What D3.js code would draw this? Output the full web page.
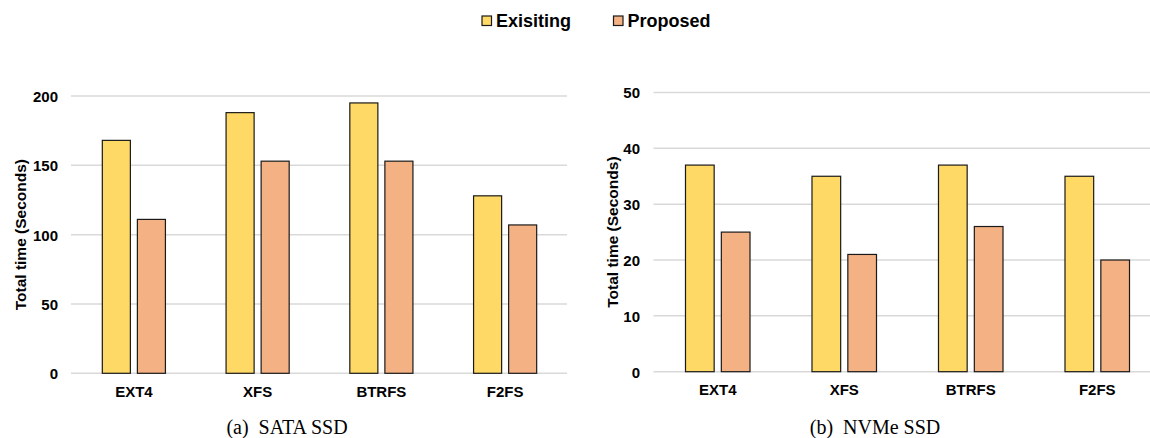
<!DOCTYPE html>
<html>
<head>
<meta charset="utf-8">
<script src="https://cdn.jsdelivr.net/npm/d3@7"></script>
<style>
  html, body { margin: 0; padding: 0; background: #fff; }
  svg { display: block; }
</style>
</head>
<body>
<svg id="chart" width="1150" height="438"></svg>
<script>
// File systems on the x axis
const categories = ["EXT4", "XFS", "BTRFS", "F2FS"];
const seriesNames = ["Exisiting", "Proposed"];

// Total run time in seconds, SATA SSD
const sataExisting = [168, 188, 195, 128];
const sataProposed = [111, 153, 153, 107];

// Total run time in seconds, NVMe SSD
const nvmeExisting = [37, 35, 37, 35];
const nvmeProposed = [25, 21, 26, 20];

// Y ticks per panel
const sataTicks = [0, 50, 100, 150, 200];
const nvmeTicks = [0, 10, 20, 30, 40, 50];

const captions = ["(a)\u00A0\u00A0SATA SSD", "(b)\u00A0\u00A0NVMe SSD"];

const colors = { "Exisiting": "#FFD966", "Proposed": "#F4B183" };
const sansBold = "Arial, 'Liberation Sans', sans-serif";

const svg = d3.select("#chart");

function panel(cfg) {
  const g = svg.append("g");
  const x = d3.scaleBand().domain(categories).range([cfg.x0, cfg.x1]);
  const y = d3.scaleLinear().domain([0, cfg.max]).range([cfg.yBottom, cfg.yTop]);

  // horizontal gridlines
  g.selectAll("line.grid").data(cfg.ticks).join("line")
    .attr("class", "grid")
    .attr("x1", cfg.x0 - 1).attr("x2", Math.min(cfg.x1, 1150))
    .attr("y1", d => y(d)).attr("y2", d => y(d))
    .attr("stroke", "#d9d9d9").attr("stroke-width", 1.5);

  // y axis tick labels
  const yAxis = d3.axisLeft(y).tickValues(cfg.ticks).tickSize(0).tickPadding(0);
  const ya = g.append("g").attr("transform", `translate(${cfg.labelX},0)`).call(yAxis);
  ya.select(".domain").remove();
  ya.selectAll("text")
    .attr("font-family", sansBold).attr("font-weight", "bold")
    .attr("font-size", 15).attr("fill", "#000").attr("dy", "0.36em");

  // x axis category labels
  const xAxis = d3.axisBottom(x).tickSize(0).tickPadding(0);
  const xa = g.append("g").attr("transform", `translate(0,${cfg.yBottom + 12})`).call(xAxis);
  xa.select(".domain").remove();
  xa.selectAll("text")
    .attr("font-family", sansBold).attr("font-weight", "bold")
    .attr("font-size", 15).attr("fill", "#000").attr("dy", "0.75em");

  // bars: each pair takes about half of its category band
  const bw = x.bandwidth();
  const half = bw * 0.255;
  const inner = d3.scaleBand().domain(seriesNames)
    .range([bw / 2 - half, bw / 2 + half]).paddingInner(0.2);
  const rows = categories.map((c, i) => ({ c, vals: [cfg.a[i], cfg.b[i]] }));
  const grp = g.selectAll("g.cat").data(rows).join("g")
    .attr("class", "cat")
    .attr("transform", d => `translate(${x(d.c)},0)`);
  grp.selectAll("rect").data(d => d.vals.map((v, k) => ({ s: seriesNames[k], v }))).join("rect")
    .attr("x", d => inner(d.s))
    .attr("width", inner.bandwidth())
    .attr("y", d => y(d.v))
    .attr("height", d => y(0) - y(d.v))
    .attr("fill", d => colors[d.s])
    .attr("stroke", "#1a1a1a").attr("stroke-width", 1.2);

  // y axis title
  g.append("text")
    .attr("transform", `translate(${cfg.titleX},${(cfg.yTop + cfg.yBottom) / 2}) rotate(-90)`)
    .attr("text-anchor", "middle").attr("dy", "0.35em")
    .attr("font-family", sansBold).attr("font-weight", "bold")
    .attr("font-size", 15.5).attr("fill", "#000")
    .text("Total time (Seconds)");

  // caption
  g.append("text")
    .attr("x", cfg.capX).attr("y", 434)
    .attr("text-anchor", "middle")
    .attr("font-family", "'Liberation Serif', 'Times New Roman', serif")
    .attr("font-size", 20).attr("fill", "#000")
    .text(cfg.caption);
}

panel({ x0: 72, x1: 567, yTop: 96, yBottom: 373.3, max: 200, ticks: sataTicks,
        a: sataExisting, b: sataProposed, labelX: 58, titleX: 21,
        capX: 287, caption: captions[0] });
panel({ x0: 654.5, x1: 1160.5, yTop: 92.5, yBottom: 371.7, max: 50, ticks: nvmeTicks,
        a: nvmeExisting, b: nvmeProposed, labelX: 640, titleX: 612.5,
        capX: 875, caption: captions[1] });

// legend
const legendX = [482, 613.5];
const lg = svg.append("g");
seriesNames.forEach((s, i) => {
  lg.append("rect")
    .attr("x", legendX[i]).attr("y", 16).attr("width", 9.5).attr("height", 9.5)
    .attr("fill", colors[s]).attr("stroke", "#1a1a1a").attr("stroke-width", 1.2);
  lg.append("text")
    .attr("x", legendX[i] + 14).attr("y", 26.5)
    .attr("font-family", sansBold).attr("font-weight", "bold")
    .attr("font-size", 18).attr("fill", "#000")
    .text(s);
});
</script>
</body>
</html>
